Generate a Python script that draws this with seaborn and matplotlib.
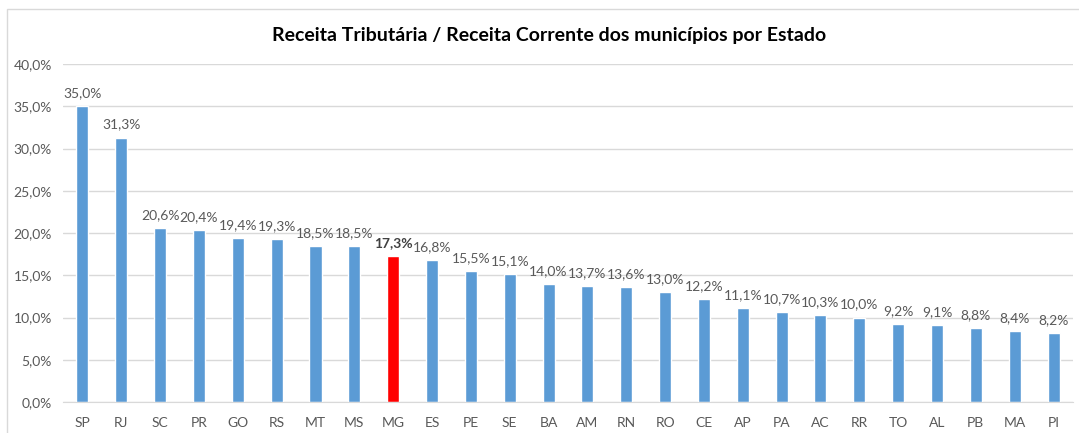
import matplotlib
matplotlib.use('Agg')
import matplotlib.pyplot as plt
import seaborn as sns
import pandas as pd
from matplotlib.patches import Rectangle

#-----------------------------------------
# dados do gráfico
#-----------------------------------------
estados = ['SP', 'RJ', 'SC', 'PR', 'GO', 'RS', 'MT', 'MS', 'MG', 'ES', 'PE', 'SE', 'BA',
           'AM', 'RN', 'RO', 'CE', 'AP', 'PA', 'AC', 'RR', 'TO', 'AL', 'PB', 'MA', 'PI']
valores = [35.0, 31.3, 20.6, 20.4, 19.4, 19.3, 18.5, 18.5, 17.3, 16.8, 15.5, 15.1, 14.0,
           13.7, 13.6, 13.0, 12.2, 11.1, 10.7, 10.3, 10.0, 9.2, 9.1, 8.8, 8.4, 8.2]
destaque = 'MG'
yticks = [0, 5, 10, 15, 20, 25, 30, 35, 40]

azul = '#5B9BD5'
vermelho = '#FF0000'
cinza_texto = '#595959'

df = pd.DataFrame({'estado': estados, 'valor': valores})
cores = [vermelho if e == destaque else azul for e in estados]

sns.set_style('white')
plt.rcParams['font.family'] = ['Lato', 'DejaVu Sans']

fig = plt.figure(figsize=(10.79, 4.33), dpi=100)
ax = fig.add_axes([0.0584, 0.0716, 0.936, 0.7804])

sns.barplot(data=df, x='estado', y='valor', hue='estado', palette=cores,
            legend=False, width=0.31, ax=ax, saturation=1)

ax.set_ylim(0, 40)
ax.set_xlim(-0.5, len(estados) - 0.5)
ax.set_yticks(yticks)
ax.set_yticklabels([f'{v:.1f}%'.replace('.', ',') for v in yticks],
                   fontsize=10, color=cinza_texto)
ax.tick_params(axis='x', labelsize=10, labelcolor=cinza_texto, length=0, pad=11)
ax.tick_params(axis='y', length=0, pad=8)
ax.set_xlabel('')
ax.set_ylabel('')
ax.grid(axis='y', color='#D9D9D9', linewidth=1)
ax.set_axisbelow(True)
for s in ['top', 'right', 'left']:
    ax.spines[s].set_visible(False)
ax.spines['bottom'].set_color('#D9D9D9')

# rótulos sobre as barras
for i, (e, v) in enumerate(zip(estados, valores)):
    txt = f'{v:.1f}%'.replace('.', ',')
    if e == destaque:
        ax.annotate(txt, (i, v), xytext=(0, 5), textcoords='offset points',
                    ha='center', va='bottom', fontsize=10, color='#404040',
                    fontweight='bold')
    else:
        ax.annotate(txt, (i, v), xytext=(0, 5), textcoords='offset points',
                    ha='center', va='bottom', fontsize=10, color=cinza_texto)

fig.text(549 / 1079, 0.918, 'Receita Tributária / Receita Corrente dos municípios por Estado',
         ha='center', va='center', fontsize=14, fontweight='bold', color='black')

# moldura do gráfico (só topo e esquerda aparecem no recorte)
fig.patches.append(Rectangle((7 / 1079, -0.05), 1.1, 1 - 9 / 433 + 0.05,
                             transform=fig.transFigure, fill=False,
                             edgecolor='#D9D9D9', linewidth=1))

plt.savefig('out.png', dpi=100)
